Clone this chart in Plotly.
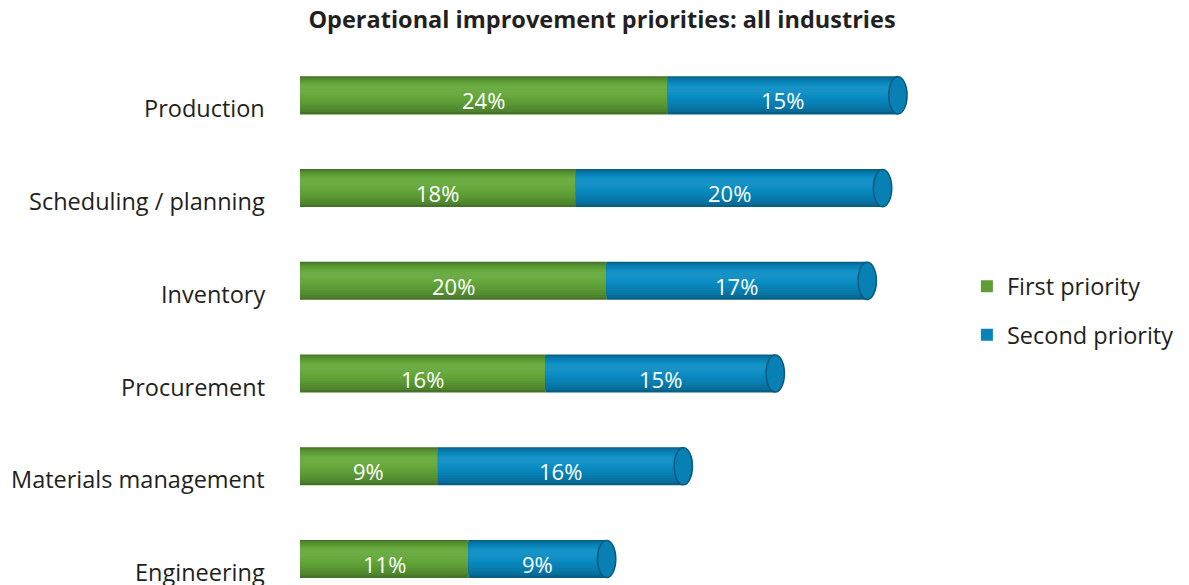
import plotly.graph_objects as go

# Survey results: share of respondents naming each area
categories = ["Production", "Scheduling / planning", "Inventory",
              "Procurement", "Materials management", "Engineering"]
first_priority = [24, 18, 20, 16, 9, 11]
second_priority = [15, 20, 17, 15, 16, 9]
series_names = ["First priority", "Second priority"]

GREEN = (100, 168, 58)
BLUE = (10, 140, 196)
FONT = "Open Sans"
LABEL_SIZE = 23.5


def shade(rgb, f):
    if f <= 1:
        c = [int(v * f) for v in rgb]
    else:
        c = [int(v + (255 - v) * (f - 1)) for v in rgb]
    return "rgb({},{},{})".format(*c)


# nested horizontal bands (top, bottom, brightness) that give the bars a rounded look
N_BANDS = 10
top_edge, bot_edge, hi = -0.205, 0.205, -0.07
bands = []
for k in range(N_BANDS):
    t = k / N_BANDS
    top = top_edge + (hi - top_edge) * t * 0.85
    bot = bot_edge - (bot_edge - hi) * t * 0.95
    bright = 0.68 + 0.40 * (t ** 0.6)
    bands.append((top, bot, bright))

fig = go.Figure()
bases_first = [0] * len(categories)
bases_second = first_priority
totals = [a + b for a, b in zip(first_priority, second_priority)]

for name, vals, base, rgb in [(series_names[0], first_priority, bases_first, GREEN),
                              (series_names[1], second_priority, bases_second, BLUE)]:
    for i, (top, bot, f) in enumerate(bands):
        fig.add_trace(go.Bar(
            y=categories, x=vals, base=base, orientation="h",
            width=bot - top, offset=top,
            marker=dict(color=shade(rgb, f), line=dict(width=0)),
            name=name, legendgroup=name,
            showlegend=(i == 5), hoverinfo="skip",
        ))

# rounded end faces of the bars
shapes = []
for idx, t in enumerate(totals):
    shapes.append(dict(type="circle", xref="x", yref="y",
                       x0=t - 0.6, x1=t + 0.6,
                       y0=idx - 0.2, y1=idx + 0.2,
                       fillcolor=shade(BLUE, 0.92),
                       line=dict(width=1.5, color=shade(BLUE, 0.66)), layer="above"))

annotations = []
for cat, a, b in zip(categories, first_priority, second_priority):
    annotations.append(dict(x=a / 2, y=cat, text=f"{a}%", showarrow=False,
                            yshift=-5, font=dict(family=FONT, size=22, color="white")))
    annotations.append(dict(x=a + b / 2, y=cat, text=f"{b}%", showarrow=False,
                            yshift=-5, font=dict(family=FONT, size=22, color="white")))
    annotations.append(dict(x=0, xref="paper", y=cat, text=cat, showarrow=False,
                            xanchor="right", xshift=-33, yshift=-13,
                            font=dict(family=FONT, size=LABEL_SIZE, color="#231f20")))

fig.update_layout(
    width=1189, height=585,
    margin=dict(l=300, r=239, t=48.6, b=0),
    paper_bgcolor="white", plot_bgcolor="white",
    barmode="overlay",
    title=dict(text="<b>Operational improvement priorities: all industries</b>",
               x=602 / 1189, xanchor="center", y=1 - 20 / 585, yanchor="middle",
               yref="container", font=dict(family=FONT, size=23.5, color="#231f20")),
    xaxis=dict(range=[0, 42.4], visible=False),
    yaxis=dict(categoryorder="array", categoryarray=categories,
               range=[5.28, -0.5], visible=False),
    legend=dict(x=1.026, xanchor="left", y=0.598, yanchor="top",
                traceorder="grouped", tracegroupgap=15,
                font=dict(family=FONT, size=LABEL_SIZE, color="#231f20"),
                bgcolor="rgba(0,0,0,0)"),
    shapes=shapes, annotations=annotations,
    font=dict(family=FONT),
)

fig.write_html("out.html")
